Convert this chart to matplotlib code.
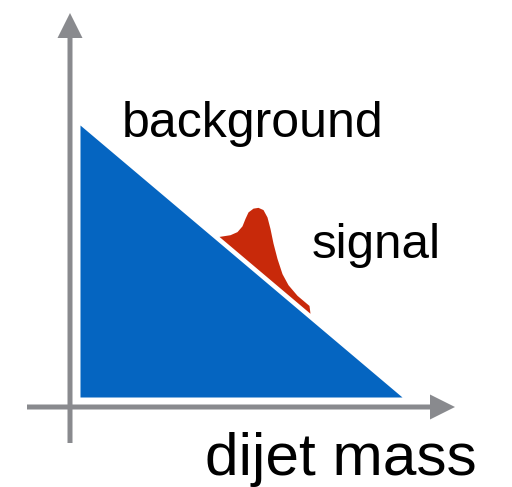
import matplotlib.pyplot as plt
import numpy as np

# Sketch of a dijet mass spectrum: falling background with a resonance bump.
# Units are roughly pixels, origin at the crossing of the two axes.
bkg_mass = [10, 332]
bkg_level = [282, 10]
bkg_floor = 10

sig_mass = [149, 160, 167, 172, 175, 178, 183, 188, 193, 197, 200, 203, 207,
            212, 218, 227, 235, 239, 240]
sig_height = [0, 11, 20, 30, 40, 49, 57, 62, 64, 60, 51, 39, 27,
              16, 10, 7, 7, 7, 0]
sig_gap = 6

GREY = "#898a8e"
BLUE = "#0565c1"
RED = "#c8290a"

plt.rcParams["font.family"] = ["Liberation Sans", "DejaVu Sans"]

fig = plt.figure(figsize=(5.12, 4.87), dpi=100)
ax = fig.add_axes([0, 0, 1, 1])
ax.set_xlim(-70, 442)
ax.set_ylim(-80, 407)
ax.axis("off")

# background triangle
ax.fill_between(bkg_mass, bkg_floor, bkg_level, color=BLUE, lw=0)

# signal bump sitting just above the background slope
m = np.array(sig_mass, dtype=float)
base = np.interp(m, bkg_mass, bkg_level) + sig_gap
ax.fill_between(m, base, base + np.array(sig_height), color=RED, lw=0)

# axes arrows
arrow_kw = dict(width=5, head_width=25, head_length=25, length_includes_head=True,
                color=GREY, lw=0)
ax.arrow(0, -36, 0, 430, **arrow_kw)
ax.arrow(-43, 0, 428, 0, **arrow_kw)

ax.text(52, 270, "background", fontsize=36, va="baseline", ha="left")
ax.text(242, 149, "signal", fontsize=35.5, va="baseline", ha="left")
ax.text(135, -68, "dijet mass", fontsize=43.5, va="baseline", ha="left")

fig.savefig("out.png", dpi=100)
